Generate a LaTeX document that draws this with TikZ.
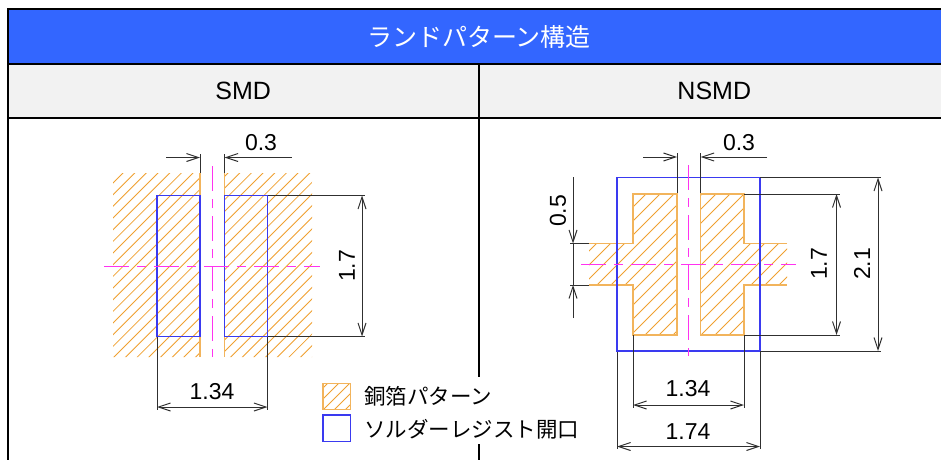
\documentclass[tikz,border=0pt]{standalone}
\usepackage{fontspec}
\usepackage{xcolor}
\setmainfont{Liberation Sans}
\newfontfamily\jpfont{Noto Sans CJK JP}
\usetikzlibrary{arrows.meta}
\definecolor{titleblue}{HTML}{3366FF}
\definecolor{cellgray}{HTML}{F2F2F2}
\definecolor{copperline}{HTML}{F0A030}
\definecolor{copperpale}{HTML}{F2B45C}
\definecolor{resistline}{HTML}{3A3AF0}
\definecolor{centerline}{HTML}{FF33F0}
\definecolor{dimline}{HTML}{303030}
\tikzset{
  titlecell/.style={draw=black, line width=2pt, fill=titleblue, text=white, inner sep=0pt, minimum width=942pt, minimum height=55pt, font=\jpfont\fontsize{25}{25}\selectfont},
  headcell/.style={draw=black, line width=2pt, fill=cellgray, inner sep=0pt, minimum width=471pt, minimum height=53.5pt, font=\fontsize{25}{25}\selectfont},
  hatchline/.style={copperline, line width=0.85pt},
  copperedge/.style={copperpale, line width=1.5pt},
  resistbox/.style={resistline, line width=1.1pt},
  centermark/.style={centerline, line width=1pt, dash pattern=on 25pt off 8pt on 9pt off 8pt},
  dimext/.style={dimline, line width=1pt},
  dimarrow/.style={dimline, line width=1pt, -{Straight Barb[length=12pt,width=8pt]}},
  dimboth/.style={dimline, line width=1pt, {Straight Barb[length=12pt,width=8pt]}-{Straight Barb[length=12pt,width=8pt]}},
  dimlabel/.style={inner sep=0pt, font=\fontsize{23}{23}\selectfont},
  legendlabel/.style={inner sep=0pt, anchor=west, font=\jpfont\fontsize{21.5}{21.5}\selectfont}
}
\begin{document}
\begin{tikzpicture}[x=1pt, y=-1pt]
    \useasboundingbox (0,0) rectangle (941,460);
    \fill[white] (0,0) rectangle (941,460);
    % table
    \node[headcell] (smdcell) at (243.25,90.75) {SMD};
    \node[headcell] (nsmdcell) at (714.25,90.75) {NSMD};
    \node[titlecell] (titlecell) at (479,36.5) {ランドパターン構造};
    \draw[black, line width=2pt] (8,64) -- (8,460);
    \draw[black, line width=2pt] (478.5,117) -- (478.5,377);
    \draw[black, line width=2pt] (478.5,444) -- (478.5,460);

    % SMD pattern
    \begin{scope}
        \clip (113,173) rectangle (200,357) (224.5,173) rectangle (312,357);
        \foreach \s in {296,307.67,...,680} \draw[hatchline] (\s,0) -- (0,\s);
    \end{scope}
    \draw[copperedge] (200,173) -- (200,357);
    \draw[copperedge] (224.5,173) -- (224.5,357);
    \draw[resistbox] (200,195.5) -- (157,195.5) -- (157,336.5) -- (200,336.5) -- cycle;
    \draw[resistbox] (224.5,195.5) -- (267.5,195.5) -- (267.5,336.5) -- (224.5,336.5) -- cycle;
    \draw[centermark] (104,266) -- (320,266);
    \draw[centermark] (212.25,166) -- (212.25,357);

    % SMD dimensions
    \draw[dimext] (200,154) -- (200,173);
    \draw[dimext] (224.5,154) -- (224.5,173);
    \draw[dimarrow] (166,157.5) -- (200,157.5);
    \draw[dimarrow] (291.5,157.5) -- (224.5,157.5);
    \node[dimlabel] (smdgap) at (261,143) {0.3};
    \draw[dimext] (267.5,195.5) -- (365,195.5);
    \draw[dimext] (267.5,336.5) -- (365,336.5);
    \draw[dimboth] (362,195.5) -- (362,336.5);
    \node[dimlabel, rotate=90] (smdheight) at (347,266) {1.7};
    \draw[dimext] (157,336.5) -- (157,410);
    \draw[dimext] (267.5,336.5) -- (267.5,410);
    \draw[dimboth] (157,407) -- (267.5,407);
    \node[dimlabel] (smdwidth) at (212,392) {1.34};

    % NSMD pattern
    \begin{scope}
        \clip (633,194) -- (677,194) -- (677,335) -- (633,335) -- (633,285) -- (589,285) -- (589,243.5) -- (633,243.5) -- cycle
              (700.5,194) -- (744,194) -- (744,243.5) -- (787,243.5) -- (787,285) -- (744,285) -- (744,335) -- (700.5,335) -- cycle;
        \foreach \s in {826,840,...,1130} \draw[hatchline] (\s,0) -- (0,\s);
    \end{scope}
    \draw[copperedge] (589,243.5) -- (633,243.5) -- (633,194) -- (677,194) -- (677,335) -- (633,335) -- (633,285) -- (589,285);
    \draw[copperedge] (787,243.5) -- (744,243.5) -- (744,194) -- (700.5,194) -- (700.5,335) -- (744,335) -- (744,285) -- (787,285);
    \draw[resistbox] (617,177.5) rectangle (760,351);
    \draw[centermark] (581,264.5) -- (796,264.5);
    \draw[centermark] (688.5,165) -- (688.5,356);

    % NSMD dimensions
    \draw[dimext] (677,153) -- (677,193);
    \draw[dimext] (700.5,153) -- (700.5,193);
    \draw[dimarrow] (643,157) -- (677,157);
    \draw[dimarrow] (767,157) -- (700.5,157);
    \node[dimlabel] (nsmdgap) at (739,143) {0.3};
    \draw[dimext] (570,243.5) -- (589,243.5);
    \draw[dimext] (570,285) -- (589,285);
    \draw[dimext] (573,243.5) -- (573,285);
    \draw[dimarrow] (573,177) -- (573,243.5);
    \draw[dimarrow] (573,318) -- (573,285);
    \node[dimlabel, rotate=90] (armheight) at (558,211) {0.5};
    \draw[dimext] (744,194) -- (840,194);
    \draw[dimext] (744,335) -- (840,335);
    \draw[dimboth] (836.5,194) -- (836.5,335);
    \node[dimlabel, rotate=90] (nsmdheight) at (819,264) {1.7};
    \draw[dimext] (760,177.5) -- (881,177.5);
    \draw[dimext] (760,351) -- (881,351);
    \draw[dimboth] (878,177.5) -- (878,351);
    \node[dimlabel, rotate=90] (openheight) at (862,264) {2.1};
    \draw[dimext] (633,335) -- (633,408);
    \draw[dimext] (744,335) -- (744,408);
    \draw[dimboth] (633,405) -- (744,405);
    \node[dimlabel] (nsmdwidth) at (688,389) {1.34};
    \draw[dimext] (617,352) -- (617,449);
    \draw[dimext] (760,352) -- (760,449);
    \draw[dimboth] (617,446.5) -- (760,446.5);
    \node[dimlabel] (openwidth) at (688,432) {1.74};

    % legend
    \begin{scope}
        \clip (323,383.5) rectangle (350.5,409.5);
        \foreach \s in {700,711,...,770} \draw[hatchline] (\s,0) -- (0,\s);
    \end{scope}
    \draw[copperedge] (323,383.5) rectangle (350.5,409.5);
    \draw[resistbox] (323,415) rectangle (350.5,441.5);
    \node[legendlabel] (copperlabel) at (364,396.5) {銅箔パターン};
    \node[legendlabel] (resistlabel) at (364,429.5) {ソルダーレジスト開口};
\end{tikzpicture}
\end{document}
